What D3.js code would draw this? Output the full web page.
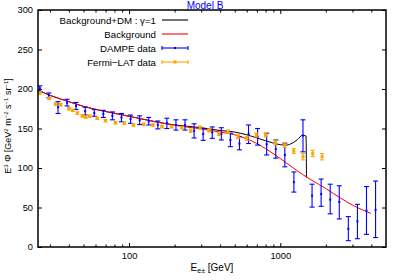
<!DOCTYPE html>
<html><head><meta charset="utf-8">
<script src="https://cdn.jsdelivr.net/npm/d3@7"></script>
<style>body{margin:0;background:#fff} text{font-family:"Liberation Sans",Arial,sans-serif}</style>
</head><body><svg id="c" width="400" height="280"></svg>
<script>
// ---- data ----
const dampeE=[25.7,29.5,33.9,38.9,44.6,51.3,58.9,67.6,77.6,89.1,102.3,117.5,134.9,154.9,177.8,204.2,234.4,269.2,309.0,354.8,407.4,467.7,537.0,616.6,707.9,812.8,933.3,1071.5,1230.3,1412.5,1621.8,1862.1,2137.9,2454.7,2818.4,3235.9,3715.4,4265.8];
const dampeV=[201,192,177,182.5,178.5,172,169.5,168.5,166,164,162,160.5,159,154.5,157,154.5,154.5,147,143,145,143,135.5,131,143,139.5,130,124,116.5,82,141,65,67,60,57,23,32.5,46,47];
const dampeLo=[197,189,169,178.5,174,167,165.5,164,161,158.5,156.5,155,154.5,149.5,150,148,148,138,135,137.5,135.5,127,123,131,129,116.5,112.5,101.5,69.5,120.5,50.5,51.5,42,35.5,8,10.5,16,12];
const dampeHi=[204,195,184,187,183,177,174,173,171,169,167,166,164,159.5,163,161,161,156,150,152,151,144,139.5,154.5,150,144,135.5,131.5,95,161,79.5,86,79.5,77.5,38.5,54,76.5,83.5];

const fermiE=[25.7,29.6,32.7,35.3,40.1,42.4,45.5,49.1,51.6,54.8,61.6,69.8,81.3,93.1,107.1,124.7,143.8,164.9,191.7,223.1,255.8,294.4,339,392.6,452,526,602.6,694.3,800,926,1067,1228,1412,1638,1889];
const fermiV=[195,188,181,180,175,173,169.5,166,164.5,165.5,163,160,157.3,156.6,154.4,155.3,154.4,152.3,152.3,151,147.2,151,147.5,143,146,139.6,137.6,141.8,141.8,132.3,129,121.5,114.3,118.4,114.3];
const fermiErr=[1.5,1.5,1.5,1.5,1.5,1.5,1.5,1.5,1.5,1.5,1.5,1.5,1.5,1.5,1.5,1.5,1.5,1.5,1.5,1.5,2,2,2,2,2,2.5,2.5,2.5,2.5,3,3,3,4,4,4];

const bgE=[25,30,40,50,70,100,150,200,300,400,500,600,700,800,1000,1200,1400,1600,2000,2500,3000,3500,3970];
const bgV=[198.5,192,184,178,171.5,165.5,158.5,154,149.5,145.5,142,137,131,124.5,112,101,92,85,74,62,53,47,42.5];

const dmE=[25,30,40,50,70,100,150,200,300,400,500,600,700,800,900,1000,1100,1200,1300,1400,1480,1490];
const dmV=[198.5,192,184,178,171.5,165.5,158.5,154.5,151,147.5,145.5,142,138,134.5,131.5,129.5,129,131.5,136,141.5,140.5,88];

const yTicks=[0,50,100,150,200,250,300];
const xMajor=[100,1000];
const xMinor=[30,40,50,60,70,80,90,200,300,400,500,600,700,800,900,2000,3000,4000];

const legendLabels=["Background+DM : \u03b3=1","Background","DAMPE data","Fermi\u2212LAT data"];

// ---- chart ----
const svg=d3.select("#c");
const x=d3.scaleLog().domain([25,5000]).range([38,386]);
const y=d3.scaleLinear().domain([0,300]).range([247,10]);

function axis(g){g.select(".domain").remove();g.selectAll("line").attr("stroke","#000");g.selectAll("text").attr("font-size",9.3).attr("fill","#000").style("font-family",'"Liberation Sans",Arial,sans-serif');}

svg.append("g").attr("transform","translate(0,247)")
  .call(d3.axisBottom(x).tickValues(xMajor).tickFormat(d3.format("d")).tickSizeInner(-4).tickSizeOuter(0).tickPadding(5)).call(axis);
svg.append("g").attr("transform","translate(0,247)")
  .call(d3.axisBottom(x).tickValues(xMinor).tickFormat("").tickSizeInner(-2.5).tickSizeOuter(0)).call(axis);
svg.append("g").attr("transform","translate(0,10)")
  .call(d3.axisTop(x).tickValues(xMajor).tickFormat("").tickSizeInner(-4).tickSizeOuter(0)).call(axis);
svg.append("g").attr("transform","translate(0,10)")
  .call(d3.axisTop(x).tickValues(xMinor).tickFormat("").tickSizeInner(-2.5).tickSizeOuter(0)).call(axis);
svg.append("g").attr("transform","translate(38,0)")
  .call(d3.axisLeft(y).tickValues(yTicks).tickSizeInner(-4).tickSizeOuter(0).tickPadding(5)).call(axis);
svg.append("g").attr("transform","translate(386,0)")
  .call(d3.axisRight(y).tickValues(yTicks).tickFormat("").tickSizeInner(-4).tickSizeOuter(0)).call(axis);

// curves
const line=d3.line().x(d=>x(d[0])).y(d=>y(d[1])).curve(d3.curveMonotoneX);
svg.append("path").attr("d",line(dmE.map((e,i)=>[e,dmV[i]]))).attr("fill","none").attr("stroke","#000").attr("stroke-width",1);
svg.append("path").attr("d",line(bgE.map((e,i)=>[e,bgV[i]]))).attr("fill","none").attr("stroke","#ff0000").attr("stroke-width",1);

// DAMPE
const dg=svg.append("g").attr("stroke","#0000ff").attr("stroke-width",1.1);
dampeE.forEach((e,i)=>{
  const cx=x(e);
  dg.append("line").attr("x1",cx).attr("x2",cx).attr("y1",y(dampeLo[i])).attr("y2",y(dampeHi[i]));
  dg.append("line").attr("x1",cx-2.5).attr("x2",cx+2.5).attr("y1",y(dampeLo[i])).attr("y2",y(dampeLo[i]));
  dg.append("line").attr("x1",cx-2.5).attr("x2",cx+2.5).attr("y1",y(dampeHi[i])).attr("y2",y(dampeHi[i]));
  dg.append("rect").attr("x",cx-1).attr("y",y(dampeV[i])-1).attr("width",2).attr("height",2).attr("fill","#0000ff").attr("stroke","none");
});
// Fermi
const fg=svg.append("g").attr("stroke","#ffa500").attr("stroke-width",1.1);
fermiE.forEach((e,i)=>{
  const cx=x(e),lo=y(fermiV[i]-fermiErr[i]),hi=y(fermiV[i]+fermiErr[i]);
  fg.append("line").attr("x1",cx).attr("x2",cx).attr("y1",lo).attr("y2",hi);
  fg.append("line").attr("x1",cx-2).attr("x2",cx+2).attr("y1",lo).attr("y2",lo);
  fg.append("line").attr("x1",cx-2).attr("x2",cx+2).attr("y1",hi).attr("y2",hi);
  fg.append("rect").attr("x",cx-1.5).attr("y",y(fermiV[i])-1.5).attr("width",3).attr("height",3).attr("fill","#ffa500").attr("stroke","none");
});

// legend
const lg=svg.append("g");
const rowsY=[20,34,48,62];
const colors=["#000","#ff0000","#0000ff","#ffa500"];
legendLabels.forEach((t,i)=>{
  const cy=rowsY[i];
  lg.append("text").attr("x",156).attr("y",cy+3.5).attr("text-anchor","end").attr("font-size",9.7).attr("fill","#000").text(t);
  lg.append("line").attr("x1",162).attr("x2",188).attr("y1",cy).attr("y2",cy).attr("stroke",colors[i]).attr("stroke-width",1.1);
  if(i>=2){
    [162,188].forEach(px=>lg.append("line").attr("x1",px).attr("x2",px).attr("y1",cy-2).attr("y2",cy+2).attr("stroke",colors[i]).attr("stroke-width",1.1));
    const s=i===2?2:3;
    lg.append("rect").attr("x",175-s/2).attr("y",cy-s/2).attr("width",s).attr("height",s).attr("fill",colors[i]);
  }
});

// frame
svg.append("rect").attr("x",38).attr("y",10).attr("width",348).attr("height",237).attr("fill","none").attr("stroke","#000").attr("stroke-width",1.5);

// title
svg.append("text").attr("x",205).attr("y",8.5).attr("text-anchor","middle").attr("font-size",10).attr("fill","#0000ff").text("Model B");

// x label
const xl=svg.append("text").attr("x",212).attr("y",271).attr("text-anchor","middle").attr("font-size",10).attr("fill","#000");
xl.append("tspan").text("E");
xl.append("tspan").attr("font-size",7).attr("dy",2).text("e\u00b1");
xl.append("tspan").attr("dy",-2).text(" [GeV]");

// y label
const yl=svg.append("text").attr("transform","translate(11,126) rotate(-90)").attr("text-anchor","middle").attr("font-size",9).attr("fill","#000");
const parts=[["E",0],["3",1],[" \u03a6 [GeV",0],["2",1],[" m",0],["\u22122",1],[" s",0],["\u22121",1],[" sr",0],["\u22121",1],["]",0]];
let cur=0;
parts.forEach(([t,sup])=>{
  const target=sup?-3.5:0;
  yl.append("tspan").attr("dy",target-cur).attr("font-size",sup?6:9).text(t);
  cur=target;
});
</script></body></html>
